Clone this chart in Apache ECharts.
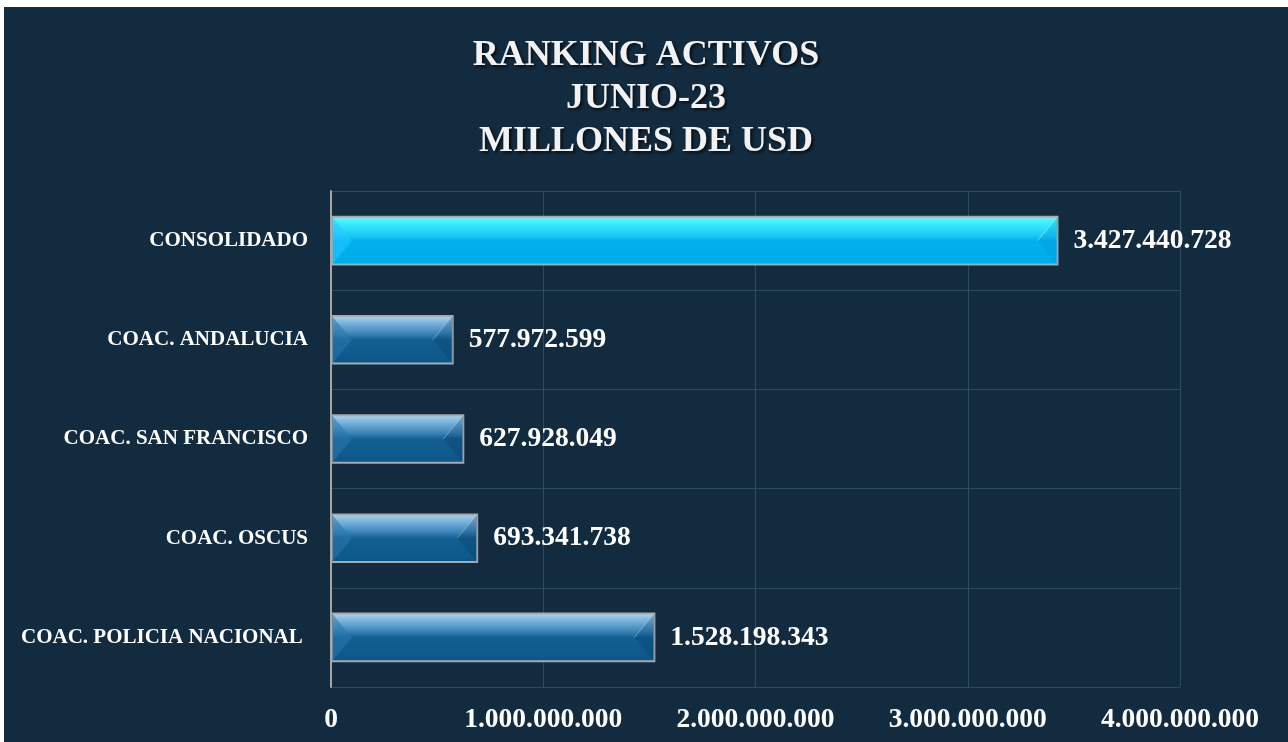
<!DOCTYPE html>
<html>
<head>
<meta charset="utf-8">
<script src="https://cdn.jsdelivr.net/npm/echarts@6/dist/echarts.min.js"></script>
<style>
html,body{margin:0;padding:0;background:#ffffff;width:1288px;height:742px;overflow:hidden;}
#chart{position:absolute;left:4px;top:7px;width:1284px;height:735px;}
</style>
</head>
<body>
<div id="chart"></div>
<script>
const titleLines = ['RANKING ACTIVOS', 'JUNIO-23', 'MILLONES DE USD'];
const categories = ['CONSOLIDADO', 'COAC. ANDALUCIA', 'COAC. SAN FRANCISCO', 'COAC. OSCUS', 'COAC. POLICIA NACIONAL '];
const values = [3427440728, 577972599, 627928049, 693341738, 1528198343];
const highlightIndex = [0];
const xTicks = [0, 1000000000, 2000000000, 3000000000, 4000000000];

function fmt(v){
  return String(Math.round(v)).replace(/\B(?=(\d{3})+(?!\d))/g, '.');
}

const blueFill = new echarts.graphic.LinearGradient(0,0,0,1,[
  {offset:0, color:'#b4daf3'},
  {offset:0.12, color:'#86bde4'},
  {offset:0.38, color:'#3a84b9'},
  {offset:0.5, color:'#145f92'},
  {offset:1, color:'#0c5687'}
]);
const cyanFill = new echarts.graphic.LinearGradient(0,0,0,1,[
  {offset:0, color:'#6ffcff'},
  {offset:0.12, color:'#3ff0ff'},
  {offset:0.4, color:'#1cc8f6'},
  {offset:0.5, color:'#02b2ee'},
  {offset:1, color:'#00abe8'}
]);

function bevel(params, api){
  const i = api.value(0), v = api.value(1);
  const p0 = api.coord([0, i]);
  const p1 = api.coord([v, i]);
  const h = api.size([0, 1])[1] * 0.5;
  const x0 = p0[0] + 1, x1 = p1[0] - 1;
  const yt = p0[1] - h/2 + 1, yb = p0[1] + h/2 - 1, ym = p0[1];
  const d = Math.min(20, (x1 - x0) / 4);
  const hi = highlightIndex.includes(i);
  return {
    type:'group',
    children:[
      {type:'polygon', shape:{points:[[x0,yt],[x0+d,ym],[x0,yb]]},
        style:{fill: hi ? 'rgba(40,200,255,0.55)' : 'rgba(40,120,175,0.55)'}},
      {type:'polygon', shape:{points:[[x1,yt],[x1-d,ym],[x1,yb]]},
        style:{fill: hi ? 'rgba(0,140,200,0.25)' : 'rgba(5,50,90,0.25)'}},
      {type:'line', shape:{x1:x1-d, y1:ym, x2:x1, y2:yt},
        style:{stroke: hi ? 'rgba(180,250,255,0.6)' : 'rgba(170,210,240,0.5)', lineWidth:1}}
    ]
  };
}

const chart = echarts.init(document.getElementById('chart'));
chart.setOption({
  backgroundColor:'#122b3f',
  animation:false,
  title:{
    text: titleLines.join('\n'),
    left:'center',
    top:22,
    textStyle:{
      fontFamily:'Liberation Serif',
      fontWeight:'bold',
      fontSize:36,
      lineHeight:43,
      color:'#f2f2f2',
      textShadowColor:'rgba(0,0,0,0.7)',
      textShadowBlur:3,
      textShadowOffsetX:2,
      textShadowOffsetY:2
    }
  },
  grid:{left:327, right:108, top:184, bottom:55, containLabel:false},
  xAxis:{
    type:'value',
    min:xTicks[0],
    max:xTicks[xTicks.length-1],
    interval:xTicks[1]-xTicks[0],
    axisLine:{show:false},
    axisTick:{show:false},
    splitLine:{show:true, lineStyle:{color:'#2d4a5f', width:1}},
    axisLabel:{
      color:'#ffffff',
      fontFamily:'Liberation Serif',
      fontWeight:'bold',
      fontSize:27.5,
      margin:19,
      formatter:v=>fmt(v)
    }
  },
  yAxis:{
    type:'category',
    data:categories,
    inverse:true,
    axisLine:{show:true, lineStyle:{color:'#a6a6a6', width:2}},
    axisTick:{show:false},
    splitLine:{show:true, lineStyle:{color:'#2d4a5f', width:1}},
    axisLabel:{
      color:'#ffffff',
      fontFamily:'Liberation Serif',
      fontWeight:'bold',
      fontSize:21,
      margin:23
    }
  },
  series:[{
    type:'bar',
    barWidth:'50%',
    data: values.map((v,i)=>({
      value:v,
      itemStyle:{color: highlightIndex.includes(i) ? cyanFill : blueFill}
    })),
    itemStyle:{borderColor:'#a9a9a9', borderWidth:2},
    label:{
      show:true,
      position:'right',
      distance:15,
      color:'#ffffff',
      fontFamily:'Liberation Serif',
      fontWeight:'bold',
      fontSize:27.5,
      formatter:p=>fmt(p.value)
    }
  },{
    type:'custom',
    silent:true,
    z:3,
    renderItem:bevel,
    encode:{x:1, y:0},
    data: values.map((v,i)=>[i, v])
  }]
});
</script>
</body>
</html>
